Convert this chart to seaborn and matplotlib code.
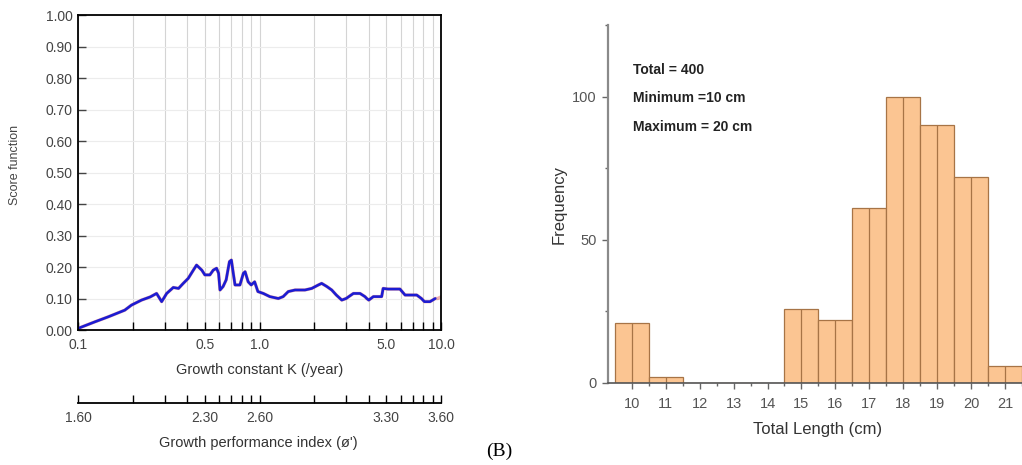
import numpy as np
import matplotlib
matplotlib.use("Agg")
import matplotlib.pyplot as plt
from matplotlib.ticker import NullLocator
import seaborn as sns

# --- left panel: score function vs growth constant K ---
k_year = [0.100, 0.124, 0.147, 0.181, 0.197, 0.224, 0.250, 0.271, 0.289, 0.308,
          0.335, 0.358, 0.380, 0.405, 0.432, 0.450, 0.481, 0.500, 0.533, 0.556,
          0.580, 0.595, 0.606, 0.630, 0.655, 0.683, 0.700, 0.715, 0.733, 0.780,
          0.815, 0.833, 0.866, 0.900, 0.940, 0.980, 1.05, 1.14, 1.27, 1.35,
          1.44, 1.57, 1.78, 1.94, 2.11, 2.20, 2.35, 2.50, 2.65, 2.84,
          3.00, 3.29, 3.58, 3.81, 3.90, 4.00, 4.24, 4.71, 4.80, 5.10,
          5.94, 6.34, 7.35, 7.80, 8.10, 8.70, 9.30]
score = [0.005, 0.026, 0.042, 0.063, 0.079, 0.095, 0.105, 0.116, 0.090, 0.116,
         0.135, 0.132, 0.148, 0.164, 0.190, 0.206, 0.190, 0.175, 0.175, 0.190,
         0.196, 0.180, 0.127, 0.138, 0.159, 0.217, 0.222, 0.185, 0.143, 0.143,
         0.180, 0.185, 0.153, 0.143, 0.153, 0.122, 0.116, 0.106, 0.100, 0.106,
         0.122, 0.127, 0.127, 0.132, 0.143, 0.148, 0.138, 0.127, 0.111, 0.095,
         0.100, 0.116, 0.116, 0.106, 0.100, 0.095, 0.106, 0.106, 0.132, 0.130,
         0.130, 0.111, 0.111, 0.100, 0.090, 0.090, 0.100]
k_tail = [9.30, 9.60, 10.0]
score_tail = [0.100, 0.100, 0.105]

k_ticks = [0.1, 0.2, 0.3, 0.4, 0.5, 0.6, 0.7, 0.8, 0.9,
           1, 2, 3, 4, 5, 6, 7, 8, 9, 10]
k_labels = {0.1: "0.1", 0.5: "0.5", 1: "1.0", 5: "5.0", 10: "10.0"}
phi_labels = {0.1: "1.60", 0.5: "2.30", 1: "2.60", 5: "3.30", 10: "3.60"}
score_ticks = [0.0, 0.1, 0.2, 0.3, 0.4, 0.5, 0.6, 0.7, 0.8, 0.9, 1.0]

# --- right panel: length frequency ---
length_cm = [10, 11, 12, 13, 14, 15, 16, 17, 18, 19, 20, 21]
frequency = [21, 2, 0, 0, 0, 26, 22, 61, 100, 90, 72, 6]
notes = ["Total = 400", "Minimum =10 cm", "Maximum = 20 cm"]

sns.set_theme(style="ticks")
plt.rcParams["font.family"] = ["Liberation Sans", "DejaVu Sans"]

W, H = 1022, 465
fig = plt.figure(figsize=(W / 100, H / 100), dpi=100)

# left axes
ax = fig.add_axes([78 / W, 1 - 330 / H, 363 / W, 315 / H])
ax.set_xscale("log")
sns.lineplot(x=k_year + k_tail[1:], y=score + score_tail[1:], ax=ax,
             color="#d85050", lw=2.4, alpha=0.45, sort=False, estimator=None)
sns.lineplot(x=k_year, y=score, ax=ax, color="#1c1cd2", lw=1.9,
             sort=False, estimator=None)
ax.set_xlim(0.1, 10)
ax.set_ylim(0, 1)
ax.set_xticks(k_ticks, labels=[k_labels.get(k, "") for k in k_ticks])
ax.xaxis.set_minor_locator(NullLocator())
ax.set_yticks(score_ticks, labels=[f"{v:.2f}" for v in score_ticks])
ax.grid(True, axis="x", color="#d4d4d4", lw=0.8)
ax.grid(True, axis="y", color="#ececec", lw=0.8)
ax.set_axisbelow(True)
ax.tick_params(axis="x", direction="in", length=6, width=1, pad=6,
               labelsize=10, labelcolor="#444444", color="black")
ax.tick_params(axis="y", direction="in", length=6, width=1, pad=4,
               labelsize=10, labelcolor="#444444", color="#444444")
for s in ax.spines.values():
    s.set_color("black")
    s.set_linewidth(1.3)
ax.set_xlabel("Growth constant K (/year)", fontsize=10.5, color="#333333")
ax.xaxis.set_label_coords(0.5, -0.105)
ax.set_ylabel("")
fig.text(15 / W, 1 - 165 / H, "Score function", rotation=90, fontsize=9,
         color="#444444", ha="center", va="center")

# growth performance index axis (phi' = log10 K + 2.6)
sec = ax.secondary_xaxis(-0.2317, functions=(lambda k: np.log10(np.clip(k, 1e-9, None)) + 2.6,
                                              lambda p: 10 ** (p - 2.6)))
phi_ticks = [np.log10(k) + 2.6 for k in k_ticks]
sec.set_xticks(phi_ticks, labels=[phi_labels.get(k, "") for k in k_ticks])
sec.xaxis.set_minor_locator(NullLocator())
sec.tick_params(axis="x", direction="in", length=6, width=1, pad=6,
                labelsize=10, labelcolor="#444444", color="black")
for s in sec.spines.values():
    s.set_color("black")
    s.set_linewidth(1.3)
fig.text(258 / W, 1 - 443 / H, "Growth performance index (\u00f8')", fontsize=10.5,
         color="#333333", ha="center", va="center")

# right axes (runs past the right edge, cropped like the reference)
ax2 = fig.add_axes([608 / W, 1 - 383 / H, 431 / W, 358 / H])
sns.histplot(x=length_cm, weights=frequency, discrete=True, ax=ax2,
             color="#fbc592", edgecolor="#a77446", linewidth=0.9, alpha=1)
ax2.vlines(length_cm, 0, frequency, color="#a77446", lw=0.9)
ax2.set_xlim(9.3, 22.0)
ax2.set_ylim(0, 125)
ax2.set_xticks(length_cm)
ax2.set_xticks([v + 0.5 for v in length_cm], minor=True)
ax2.set_yticks([0, 50, 100])
ax2.set_yticks([25, 75, 125], minor=True)
ax2.tick_params(axis="both", which="major", direction="out", length=4, width=1,
                labelsize=10.5, labelcolor="#555555", color="#666666", pad=4)
ax2.tick_params(axis="both", which="minor", direction="out", length=2.5, width=1,
                color="#666666")
ax2.tick_params(axis="x", pad=6)
sns.despine(ax=ax2)
ax2.spines["left"].set_color("#8a8a8a")
ax2.spines["left"].set_linewidth(1.6)
ax2.spines["bottom"].set_color("#555555")
ax2.spines["bottom"].set_linewidth(1.2)
ax2.set_xlabel("Total Length (cm)", fontsize=12, color="#333333")
ax2.xaxis.set_label_coords(210 / 431, -0.108)
ax2.set_ylabel("Frequency", fontsize=12, color="#333333")
ax2.yaxis.set_label_coords(-0.095, 0.5)
for txt, yv in zip(notes, [109.3, 99.5, 89.4]):
    ax2.text(10.05, yv, txt, fontsize=10, fontweight="bold", color="#222222",
             ha="left", va="center")

fig.text(499 / W, 1 - 451 / H, "(B)", fontsize=14, color="black",
         family=["Liberation Serif", "DejaVu Serif"], ha="center", va="center")

fig.savefig("out.png", dpi=100)
